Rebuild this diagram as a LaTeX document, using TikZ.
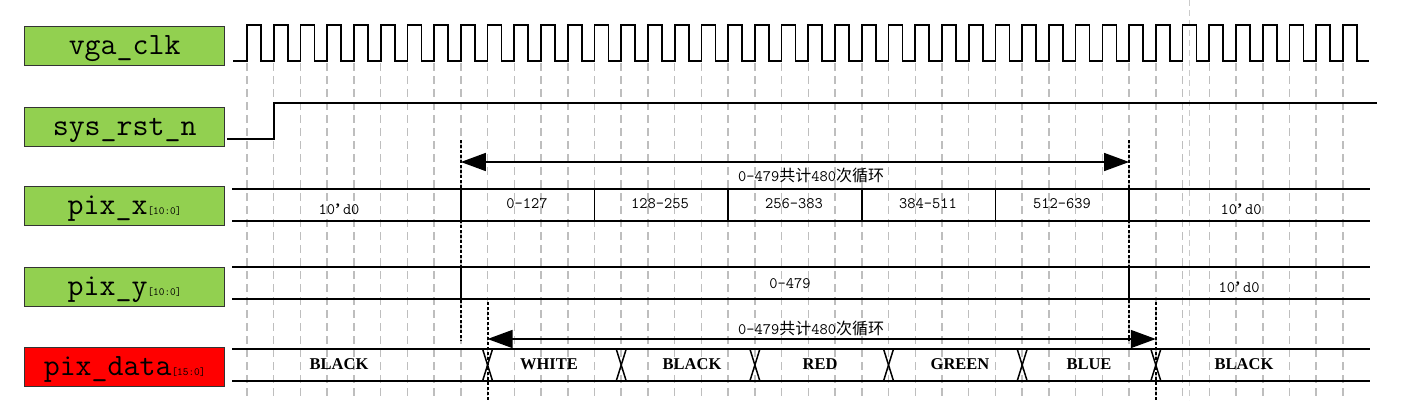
\documentclass[tikz,border=0pt]{standalone}
\usepackage{fontspec}
\newfontfamily\cjk{Noto Sans CJK SC}
\newfontfamily\bserif{Liberation Serif}
\usetikzlibrary{arrows.meta}
\definecolor{siggreen}{RGB}{146,208,80}
\definecolor{gridgray}{RGB}{190,190,190}
\begin{document}
\begin{tikzpicture}[x=1pt,y=-1pt,
  sigbox/.style={draw=black!80, line width=1.3pt, minimum width=200pt, minimum height=39pt,
    inner sep=0pt, anchor=north west, text height=22pt, text depth=5pt,
    font=\ttfamily\fontsize{31}{31}\selectfont},
  wave/.style={line width=1.7pt, black},
  bus/.style={line width=1.5pt, black},
  gridline/.style={draw=gridgray, line width=1.5pt, dash pattern=on 8pt off 5pt},
  dline/.style={line width=1.9pt, black, dash pattern=on 3pt off 2pt},
  val/.style={font=\ttfamily\fontsize{16}{16}\selectfont, inner sep=0pt},
  colr/.style={font=\bserif\bfseries\fontsize{16.5}{16.5}\selectfont, inner sep=0pt},
  span/.style={line width=1.5pt, black, {Triangle[length=25pt,width=18pt]}-{Triangle[length=25pt,width=18pt]}}
]
\def\P{26.73}
\def\xo{247}
\def\qt{{\bserif\bfseries ’}\,}
\useasboundingbox (0,0) rectangle (1402,400);

% clock grid
\foreach \i in {0,...,41}
  \draw[gridline] ({\xo+\i*\P},63) -- ({\xo+\i*\P},400);
\draw[gridgray!80, line width=0.8pt, dash pattern=on 6pt off 4pt] (1189,0) -- (1189,400);

% labels
\node[sigbox, fill=siggreen] (lclk) at (24,26) {vga\_clk};
\node[sigbox, fill=siggreen] (lrst) at (24,107) {sys\_rst\_n};
\node[sigbox, fill=siggreen] (lx) at (24,186) {pix\_x{\fontsize{11}{11}\selectfont[10:0]}};
\node[sigbox, fill=siggreen] (ly) at (24,267) {pix\_y{\fontsize{11}{11}\selectfont[10:0]}};
\node[sigbox, fill=red] (ld) at (24,347) {pix\_data{\fontsize{11}{11}\selectfont[15:0]}};

% clock
\draw[wave] (233,61) \foreach \i in {0,...,41}{
  -- ({\xo+\i*\P},61) -- ({\xo+\i*\P},25) -- ({\xo+14+\i*\P},25) -- ({\xo+14+\i*\P},61)}
  -- (1369,61);

% reset
\draw[wave] (227,139) -- ({\xo+\P},139) -- ({\xo+\P},103) -- (1377,103);

% dotted markers
\draw[dline] ({\xo+8*\P},140) -- ({\xo+8*\P},341);
\draw[dline] ({\xo+33*\P},140) -- ({\xo+33*\P},341);
\draw[dline] ({\xo+9*\P},302) -- ({\xo+9*\P},400);
\draw[dline] ({\xo+34*\P},302) -- ({\xo+34*\P},400);

% pix_x bus
\draw[bus] (232,189) -- (1370,189);
\draw[bus] (232,221) -- (1370,221);
\foreach \k in {8,13,18,23,28,33}
  \draw[bus] ({\xo+\k*\P},189) -- ({\xo+\k*\P},221);
\node[val] (x0) at (339,209) {10\qt d0};
\node[val] (x1) at (527,204) {0-127};
\node[val] (x2) at (660,204) {128-255};
\node[val] (x3) at (794,204) {256-383};
\node[val] (x4) at (928,204) {384-511};
\node[val] (x5) at (1062,204) {512-639};
\node[val] (x6) at (1241,209) {10\qt d0};

% pix_y bus
\draw[bus] (232,267) -- (1370,267);
\draw[bus] (232,299) -- (1370,299);
\foreach \k in {8,33}
  \draw[bus] ({\xo+\k*\P},267) -- ({\xo+\k*\P},299);
\node[val] (y1) at (790,284) {0-479};
\node[val] (y2) at (1239,287) {10\qt d0};

% pix_data bus
\draw[bus] (232,349) -- (1370,349);
\draw[bus] (232,381) -- (1370,381);
\foreach \k in {9,14,19,24,29,34}{
  \draw[line width=2.6pt] ({\xo+\k*\P-16},349) -- ({\xo+\k*\P+16},349);
  \draw[line width=2.6pt] ({\xo+\k*\P-16},381) -- ({\xo+\k*\P+16},381);
  \draw[bus] ({\xo+\k*\P-5},349) -- ({\xo+\k*\P+5},381);
  \draw[bus] ({\xo+\k*\P+5},349) -- ({\xo+\k*\P-5},381);
}
\node[colr] (d0) at (339,364) {BLACK};
\node[colr] (d1) at (549,364) {WHITE};
\node[colr] (d2) at (692,364) {BLACK};
\node[colr] (d3) at (820,364) {RED};
\node[colr] (d4) at (960,364) {GREEN};
\node[colr] (d5) at (1089,364) {BLUE};
\node[colr] (d6) at (1244,364) {BLACK};

% span arrows
\coordinate (a1l) at ({\xo+8*\P},162);
\coordinate (a1r) at ({\xo+33*\P},162);
\coordinate (a2l) at ({\xo+9*\P},339);
\coordinate (a2r) at ({\xo+34*\P},339);
\draw[span] (a1l) -- (a1r);
\draw[span] (a2l) -- (a2r);
\node[val, anchor=west] (t1) at (738,175) {0-479{\cjk 共计}480{\cjk 次循环}};
\node[val, anchor=west] (t2) at (738,328) {0-479{\cjk 共计}480{\cjk 次循环}};
\end{tikzpicture}
\end{document}
